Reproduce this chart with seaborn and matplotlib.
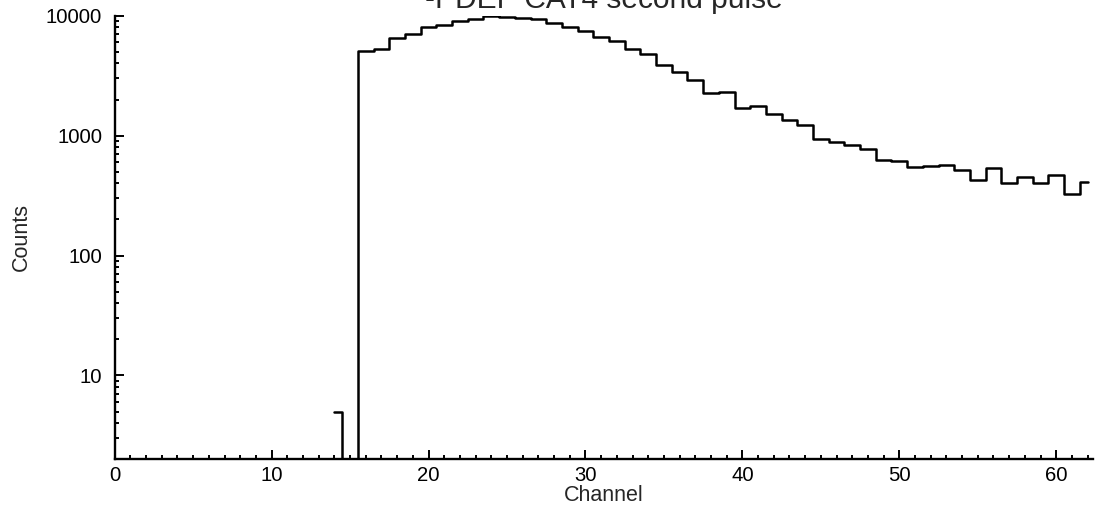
import numpy as np
import pandas as pd
import matplotlib
matplotlib.use('Agg')
import matplotlib.pyplot as plt
import seaborn as sns
from matplotlib.ticker import MultipleLocator, LogLocator, FixedLocator, NullFormatter

# channel counts (channels 14..62)
channels = list(range(14, 63))
counts = [5, 0, 5100, 5280, 6490, 7040, 8000, 8370, 9030, 9390,
          9950, 9700, 9500, 9390, 8740, 8090, 7500, 6680, 6150, 5280,
          4820, 3860, 3400, 2895, 2256, 2290, 1711, 1768, 1507, 1352,
          1228, 944, 886, 832, 770, 628, 615, 548, 556, 567,
          517, 428, 537, 406, 450, 401, 468, 325, 410]

y_ticks = [10, 100, 1000, 10000]
y_labels = ["10", "100", "1000", "10000"]
x_ticks = [0, 10, 20, 30, 40, 50, 60]

df = pd.DataFrame({"Channel": channels, "Counts": counts})

sns.set_style("ticks")
plt.rcParams['font.family'] = ['Liberation Sans', 'DejaVu Sans']

fig = plt.figure(figsize=(11.03, 5.13), dpi=100)
ax = fig.add_axes([0.104, 0.1047, 0.887, 0.8647])

sns.lineplot(data=df, x="Channel", y="Counts", drawstyle="steps-mid",
             color="black", linewidth=1.8, ax=ax)

ax.set_yscale("log")
ax.set_ylim(2, 10000)
ax.set_xlim(0, 62.35)

ax.yaxis.set_major_locator(FixedLocator(y_ticks))
ax.set_yticklabels(y_labels)
ax.yaxis.set_minor_locator(LogLocator(base=10, subs=np.arange(2, 10)))
ax.yaxis.set_minor_formatter(NullFormatter())
ax.set_xticks(x_ticks)
ax.xaxis.set_minor_locator(MultipleLocator(1))

ax.tick_params(which="both", direction="in", top=False, right=False,
               labelsize=14.6, width=1.4, color="black", labelcolor="black")
ax.tick_params(which="major", length=6.5)
ax.tick_params(which="minor", length=3.2)
ax.tick_params(axis="y", pad=9)
ax.tick_params(axis="x", pad=5)

sns.despine(ax=ax)
for s in ["left", "bottom"]:
    ax.spines[s].set_linewidth(1.7)
    ax.spines[s].set_color("black")

ax.set_xlabel("Channel", fontsize=15.5, labelpad=0)
ax.set_ylabel("Counts", fontsize=15.5, labelpad=10)
ax.set_title("-PDEP CAT4 second pulse", fontsize=21.5, pad=0, y=1.0174)

fig.savefig("out.png", dpi=100)
